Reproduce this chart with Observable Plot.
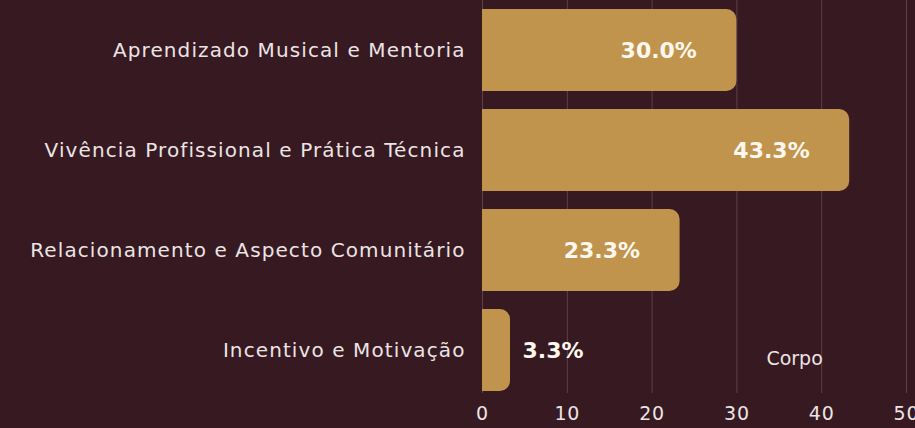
<!DOCTYPE html>
<html>
<head>
<meta charset="utf-8">
<script src="https://cdn.jsdelivr.net/npm/d3@7"></script>
<script src="https://cdn.jsdelivr.net/npm/@observablehq/plot@0.6"></script>
<style>
  html, body { margin: 0; padding: 0; background: #361921; overflow: hidden; }
  #chart svg { display: block; }
  #chart g[aria-label="y-axis tick label"] text { letter-spacing: 1.1px; font-size: 20px; }
  #chart g[aria-label="x-axis tick label"] text { letter-spacing: 0.8px; }
</style>
</head>
<body>
<div id="chart"></div>
<script>
const categories = [
  "Aprendizado Musical e Mentoria",
  "Vivência Profissional e Prática Técnica",
  "Relacionamento e Aspecto Comunitário",
  "Incentivo e Motivação"
];
const values = [30.0, 43.3, 23.3, 3.3];
const xTicks = [0, 10, 20, 30, 40, 50];
const legendLabel = "Corpo";

const data = categories.map((c, i) => ({category: c, value: values[i], label: values[i].toFixed(1) + "%"}));
const inside = data.filter(d => d.value >= 10);
const outside = data.filter(d => d.value < 10);

const bg = "#361921";
const gold = "#c1944e";

const chart = Plot.plot({
  width: 915,
  height: 428,
  marginTop: 0,
  marginBottom: 35,
  marginLeft: 482,
  marginRight: 9,
  style: {background: bg, color: "#ece4e4", fontFamily: "'DejaVu Sans', sans-serif", fontSize: "19px"},
  x: {domain: [0, 50], ticks: xTicks, label: null, tickSize: 0, tickPadding: 13},
  y: {domain: categories, range: [8, 393], paddingInner: 0.176, paddingOuter: 0, label: null, tickSize: 0, tickPadding: 17},
  marks: [
    Plot.gridX(xTicks, {stroke: "#6a4a52", strokeOpacity: 0.8, strokeWidth: 1}),
    Plot.barX(data, {x: "value", y: "category", fill: gold, rx: 10}),
    Plot.barX(data, {x1: 0, x2: d => d.value / 2, y: "category", fill: gold}),
    Plot.text(inside, {x: "value", y: "category", text: "label", textAnchor: "end", dx: -40, fill: "#fff8ee", fontWeight: "bold", fontSize: 22}),
    Plot.text(outside, {x: "value", y: "category", text: "label", textAnchor: "start", dx: 12, fill: "#fff8ee", fontWeight: "bold", fontSize: 22}),
    Plot.text([legendLabel], {x: 36.8, y: [categories[3]], text: d => d, dy: 8, fill: "#ece4e4", fontSize: 19})
  ]
});
document.getElementById("chart").appendChild(chart);
</script>
</body>
</html>
